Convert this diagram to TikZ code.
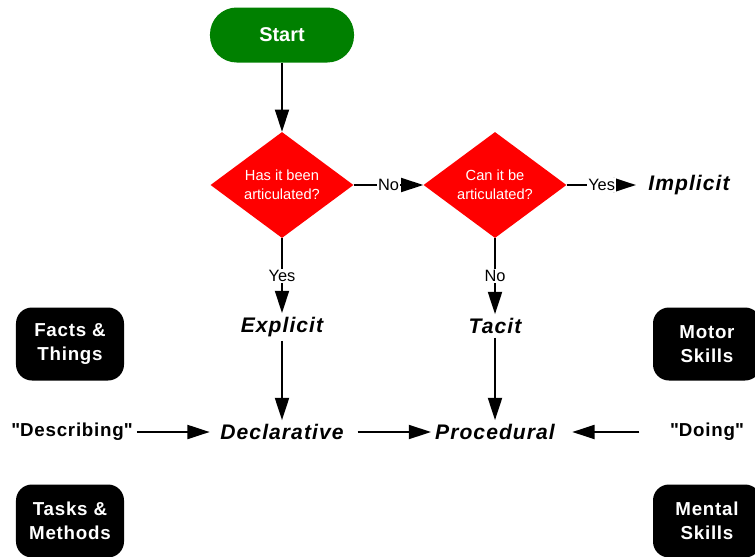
\documentclass[tikz,border=0pt]{standalone}
\usepackage{fontspec}
\setmainfont{Liberation Sans}
\usetikzlibrary{arrows.meta,shapes.geometric}
\definecolor{startgreen}{RGB}{0,128,0}

\begin{document}
\begin{tikzpicture}[x=0.03cm,y=-0.03cm,
  flow/.style={line width=1.5pt,-{Triangle[length=19pt,width=12pt]}},
  startbox/.style={fill=startgreen,text=white,rounded corners=0.8cm,minimum width=4.32cm,minimum height=1.65cm,font=\fontsize{17}{20}\selectfont\bfseries},
  ask/.style={diamond,fill=red,text=white,minimum width=4.29cm,minimum height=3.18cm,inner sep=0pt,align=center,font=\fontsize{12.5}{16}\selectfont},
  tag/.style={fill=white,inner sep=1pt,font=\fontsize{14}{16}\selectfont},
  kind/.style={font=\fontsize{18}{20}\selectfont\addfontfeatures{LetterSpace=5}\bfseries\itshape},
  word/.style={font=\fontsize{16}{18}\selectfont\addfontfeatures{LetterSpace=4}\bfseries},
  blob/.style={fill=black,text=white,rounded corners=0.48cm,minimum width=3.24cm,minimum height=2.19cm,align=center,font=\fontsize{16}{20.4}\selectfont\addfontfeatures{LetterSpace=4}\bfseries}]
    \clip (0,0) rectangle (755,556);

\node[startbox] (start) at (282,35) {Start};

\node[ask] (art) at (282,185) {Has it been\\articulated?};
\node[ask] (can) at (495,185) {Can it be\\articulated?};

\node[kind] (impl) at (689,185) {Implicit};
\node[kind] (expl) at (282,327) {Explicit};
\node[kind] (tacit) at (495,326) {Tacit};
\node[kind] (decl) at (282,432) {Declarative};
\node[kind] (proc) at (495,432) {Procedural};

\node[word] (desc) at (72,432) {\textquotedbl Describing\textquotedbl};
\node[word] (doing) at (707,432) {\textquotedbl Doing\textquotedbl};

% black boxes on both sides
\node[blob] (facts) at (70,344) {Facts \&\\Things};
\node[blob] (tasks) at (70,521) {Tasks \&\\Methods};
\node[blob] (motor) at (707,344) {Motor\\Skills};
\node[blob] (mental) at (707,521) {Mental\\Skills};

\draw[flow] (start) -- (art);
\draw[flow] (art) --node[tag]{No} (can);
\draw[flow,shorten >=0.25cm] (can) --node[tag,pos=0.45]{Yes} (impl);
\draw[flow] (art) --node[tag]{Yes} (expl);
\draw[flow] (can) --node[tag]{No} (tacit);

\draw[flow] (expl) -- (decl);
\draw[flow] (tacit) -- (proc);
\draw[flow,shorten <=0.3cm] (decl) -- (proc);
\draw[flow,shorten >=0.2cm] (desc) -- (decl);
\draw[flow,shorten <=0.8cm,shorten >=0.4cm] (doing) -- (proc);

\end{tikzpicture}
\end{document}
